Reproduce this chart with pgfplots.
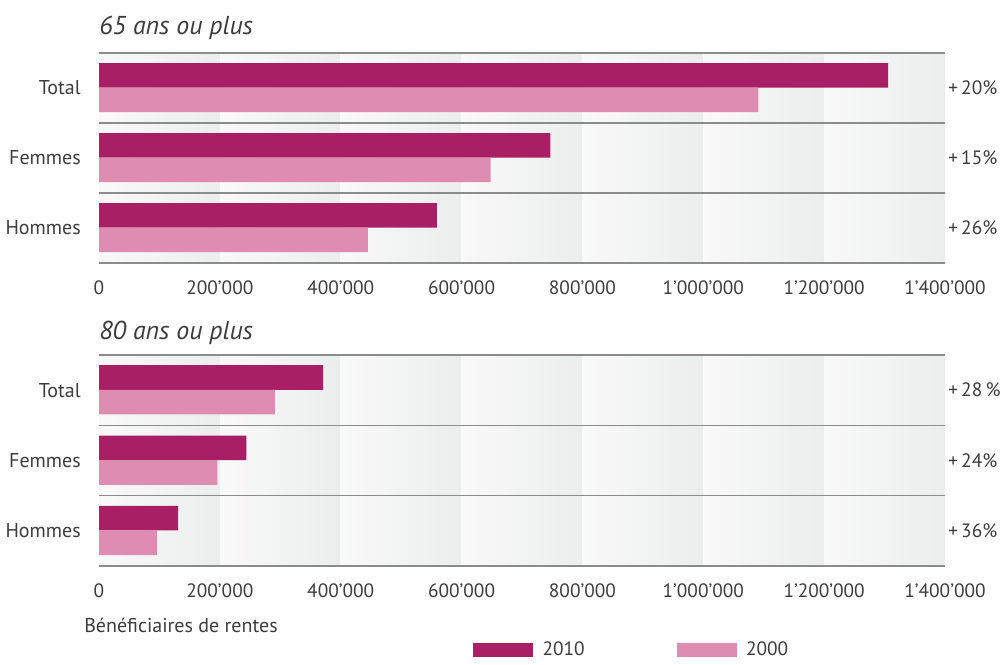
\documentclass[border=0pt]{standalone}
\usepackage{pgfplots}
\pgfplotsset{compat=1.18}
\usepackage{fontspec}
\setmainfont{PT Sans}
\definecolor{c2010}{HTML}{A91F65}
\definecolor{c2000}{HTML}{DE8CB2}
\definecolor{txt}{HTML}{3C3C3C}
\definecolor{gline}{HTML}{8C8C8C}
\definecolor{bgL}{HTML}{F9F9F9}
\definecolor{bgR}{HTML}{ECEDED}
\newcommand{\lblfont}{\fontsize{15}{18}\selectfont}
\newcommand{\tckfont}{\fontsize{14.5}{17}\selectfont}
\newcommand{\ttlfont}{\itshape\fontsize{19.4}{22}\selectfont}
\pgfplotsset{
 panel/.style={
  scale only axis, width=634.5pt,
  xmin=0, xmax=1400000, ymin=0, ymax=3,
  axis line style={draw=none},
  xtick={0,200000,400000,600000,800000,1000000,1200000,1400000},
  xticklabels={0,200’000,400’000,600’000,800’000,1’000’000,1’200’000,1’400’000},
  ytick={0.5,1.5,2.5}, yticklabels={Hommes,Femmes,Total},
  minor ytick={0,1,2,3}, yminorgrids, minor grid style={gline, line width=1.2pt},
  major tick length=0pt, minor tick length=0pt,
  xticklabel style={anchor=center, yshift=-18.75pt, font=\tckfont},
  yticklabel style={anchor=east, inner sep=0pt, xshift=-13.5pt, font=\fontsize{15}{18}\selectfont},
  ticklabel style={text=txt},
  scaled x ticks=false,
  clip=false, axis on top,
  xbar, bar shift=0pt, bar width=0.35,
 },
}
\newcommand{\bgcols}{%
  \fill[left color=bgL, right color=bgR] (axis cs:0,0) rectangle (axis cs:200000,3);
  \fill[left color=bgL, right color=bgR] (axis cs:200000,0) rectangle (axis cs:400000,3);
  \fill[left color=bgL, right color=bgR] (axis cs:400000,0) rectangle (axis cs:600000,3);
  \fill[left color=bgL, right color=bgR] (axis cs:600000,0) rectangle (axis cs:800000,3);
  \fill[left color=bgL, right color=bgR] (axis cs:800000,0) rectangle (axis cs:1000000,3);
  \fill[left color=bgL, right color=bgR] (axis cs:1000000,0) rectangle (axis cs:1200000,3);
  \fill[left color=bgL, right color=bgR] (axis cs:1200000,0) rectangle (axis cs:1400000,3);
}
\begin{document}
\begin{tikzpicture}
\path[use as bounding box] (0,0) rectangle (752.25pt,498pt);
% top panel
\begin{axis}[panel, height=157.5pt, at={(74.25pt,458.25pt)}, anchor=north west]
\bgcols
\addplot[fill=c2010, draw=none] coordinates {(1306000,2.68) (747000,1.68) (559000,0.68)};
\addplot[fill=c2000, draw=none] coordinates {(1091000,2.33) (648000,1.33) (445000,0.33)};
\node[anchor=base west, inner sep=0pt, font=\ttlfont, text=txt] at (rel axis cs:0,1) [yshift=13.5pt] {65 ans ou plus};
\node[anchor=west, inner sep=0pt, font=\tckfont, text=txt] at (rel axis cs:1,0.8333) [xshift=2.25pt] {+\,20\%};
\node[anchor=west, inner sep=0pt, font=\tckfont, text=txt] at (rel axis cs:1,0.5) [xshift=2.25pt] {+\,15\%};
\node[anchor=west, inner sep=0pt, font=\tckfont, text=txt] at (rel axis cs:1,0.1667) [xshift=2.25pt] {+\,26\%};
\end{axis}
% bottom panel
\begin{axis}[panel, height=158.25pt, at={(74.25pt,231.75pt)}, anchor=north west,
  legend style={at={(0.442,-0.345)}, anchor=north west, draw=none, fill=none,
    inner sep=0pt, font=\tckfont, text=txt,
    /tikz/every even column/.append style={column sep=67pt}, cells={anchor=west}},
  legend columns=2,
  legend image code/.code={\fill[#1] (0pt,-5.25pt) rectangle (45pt,5.25pt); \path (50pt,0pt);}]
\bgcols
\addplot[fill=c2010, draw=none] coordinates {(371000,2.68) (244000,1.68) (131000,0.68)};
\addlegendentry{2010}
\addplot[fill=c2000, draw=none] coordinates {(291000,2.33) (196000,1.33) (96000,0.33)};
\addlegendentry{2000}
\node[anchor=base west, inner sep=0pt, font=\ttlfont, text=txt] at (rel axis cs:0,1) [yshift=11.25pt] {80 ans ou plus};
\node[anchor=west, inner sep=0pt, font=\tckfont, text=txt] at (rel axis cs:1,0.8333) [xshift=2.25pt] {+\,28\,\%};
\node[anchor=west, inner sep=0pt, font=\tckfont, text=txt] at (rel axis cs:1,0.5) [xshift=2.25pt] {+\,24\%};
\node[anchor=west, inner sep=0pt, font=\tckfont, text=txt] at (rel axis cs:1,0.1667) [xshift=2.25pt] {+\,36\%};
\node[anchor=west, inner sep=0pt, font=\lblfont, text=txt] at (rel axis cs:0,0) [xshift=-11.25pt, yshift=-44.25pt] {Bénéficiaires de rentes};
\end{axis}
\end{tikzpicture}
\end{document}
